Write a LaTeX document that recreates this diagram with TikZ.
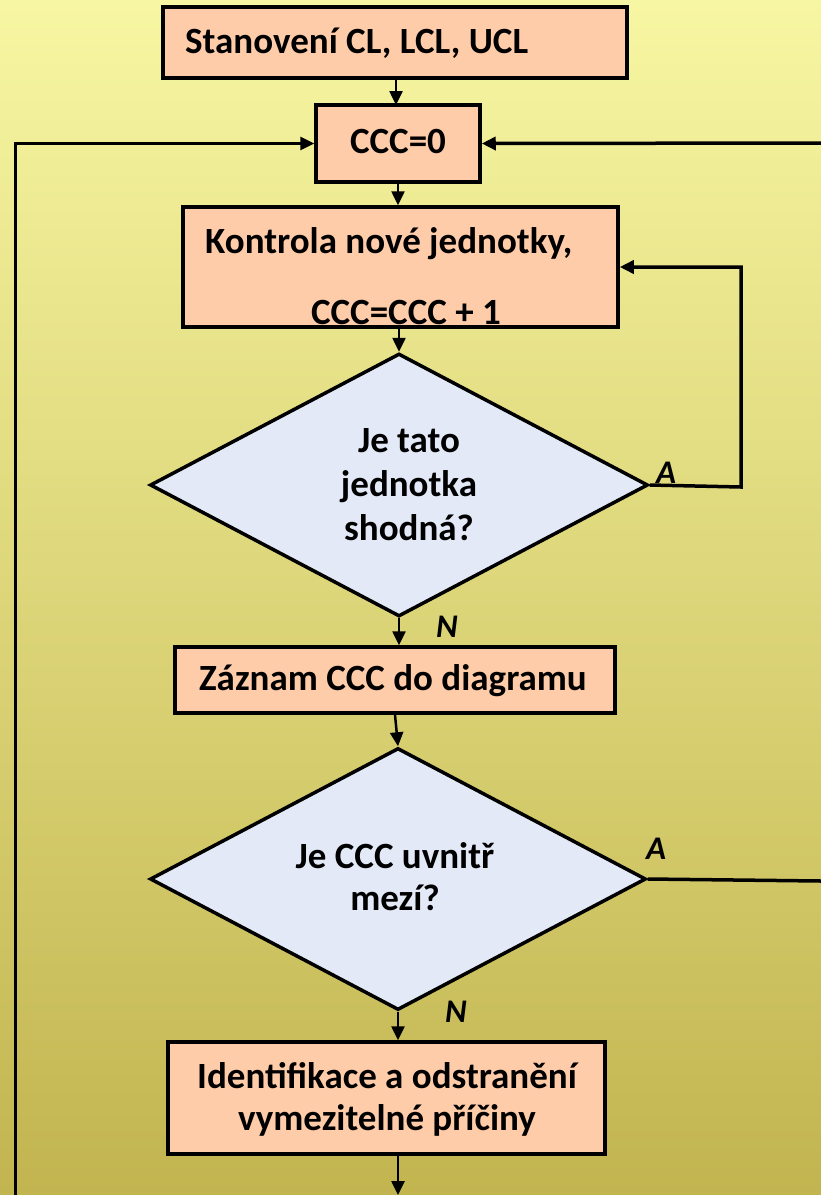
\documentclass[tikz,border=0pt]{standalone}
\usepackage{fontspec}
\setmainfont{Carlito}
\usetikzlibrary{shapes.geometric,arrows.meta}
\definecolor{bgtop}{RGB}{247,246,162}
\definecolor{bgbot}{RGB}{194,181,80}
\definecolor{boxfill}{RGB}{255,204,170}
\definecolor{diafill}{RGB}{227,233,246}
\begin{document}
\begin{tikzpicture}[x=1pt,y=-1pt,
  box/.style={draw=black, line width=3.5pt, fill=boxfill, inner sep=0pt, rectangle},
  dia/.style={diamond, draw=black, line width=3.5pt, fill=diafill, inner sep=0pt},
  txt/.style={font=\fontsize{37}{42}\selectfont\bfseries, inner sep=0pt},
  lab/.style={font=\fontsize{33}{36}\selectfont\bfseries\itshape, inner sep=0pt},
  arr/.style={line width=2.5pt, -{Triangle[length=14pt,width=13pt]}},
  ln/.style={line width=3.5pt}]
\shade[top color=bgtop, bottom color=bgbot] (0,0) rectangle (821,1195);
\useasboundingbox (0,0) rectangle (821,1195);
% boxes
\node[box, minimum width=464pt, minimum height=71pt] (b1) at (395,42.5) {};
\node[box, minimum width=164pt, minimum height=77pt] (b2) at (398,143.5) {};
\node[box, minimum width=435pt, minimum height=120pt] (b3) at (400.5,267) {};
\node[dia, minimum width=498pt, minimum height=263pt] (d1) at (399,485) {};
\node[box, minimum width=440pt, minimum height=66pt] (b4) at (395,680) {};
\node[dia, minimum width=496pt, minimum height=262pt] (d2) at (398,879) {};
\node[box, minimum width=437pt, minimum height=112pt] (b5) at (386.5,1098) {};
% texts
\node[txt, anchor=base west] (t1) at (185,53) {Stanovení CL, LCL, UCL};
\node[txt, anchor=base] (t2) at (398,153) {CCC=0};
\node[txt, anchor=base west] (t3a) at (205,253) {Kontrola nové jednotky,};
\node[txt, anchor=base] (t3b) at (406,324) {CCC=CCC + 1};
\node[txt, anchor=base] (t4a) at (409,452) {Je tato};
\node[txt, anchor=base] (t4b) at (409,496) {jednotka};
\node[txt, anchor=base] (t4c) at (409,540) {shodná?};
\node[txt, anchor=base] (t5) at (393,690) {Záznam CCC do diagramu};
\node[txt, anchor=base] (t6a) at (395,868) {Je CCC uvnitř};
\node[txt, anchor=base] (t6b) at (395,910) {mezí?};
\node[txt, anchor=base] (t7a) at (387,1088) {Identifikace a odstranění};
\node[txt, anchor=base] (t7b) at (387,1130) {vymezitelné příčiny};
% labels
\node[lab, anchor=base] (la1) at (666,483) {A};
\node[lab, anchor=base] (ln1) at (447,637) {N};
\node[lab, anchor=base] (la2) at (656,859) {A};
\node[lab, anchor=base] (ln2) at (456,1022) {N};
% connector end points
\coordinate (lb) at (15,1195);
\coordinate (rb) at (821,143);
\coordinate (lc) at (741,487);
\coordinate (rc) at (821,881);
\coordinate (bb) at (398,1195);
% connectors
\draw[arr] (b1.south -| 396,0) -- (396,105);
\draw[arr] (b2.south) -- (b2.south |- b3.north);
\draw[arr] (b3.south -| d1.north) -- (d1.north);
\draw[arr] (d1.south) -- (d1.south |- b4.north);
\draw[arr] (b4.south) -- (d2.north);
\draw[arr] (d2.south) -- (d2.south |- b5.north);
\draw[arr] (b5.south -| bb) -- (bb);
\draw[arr, line width=3pt, rounded corners=0pt] (lb) |- (b2.west);
\draw[arr, line width=3.5pt] (rb) -- (b2.east);
\draw[arr, line width=3.5pt] (d1.east) -- (lc) |- (b3.east);
\draw[ln] (d2.east) -- (rc);
\end{tikzpicture}
\end{document}
